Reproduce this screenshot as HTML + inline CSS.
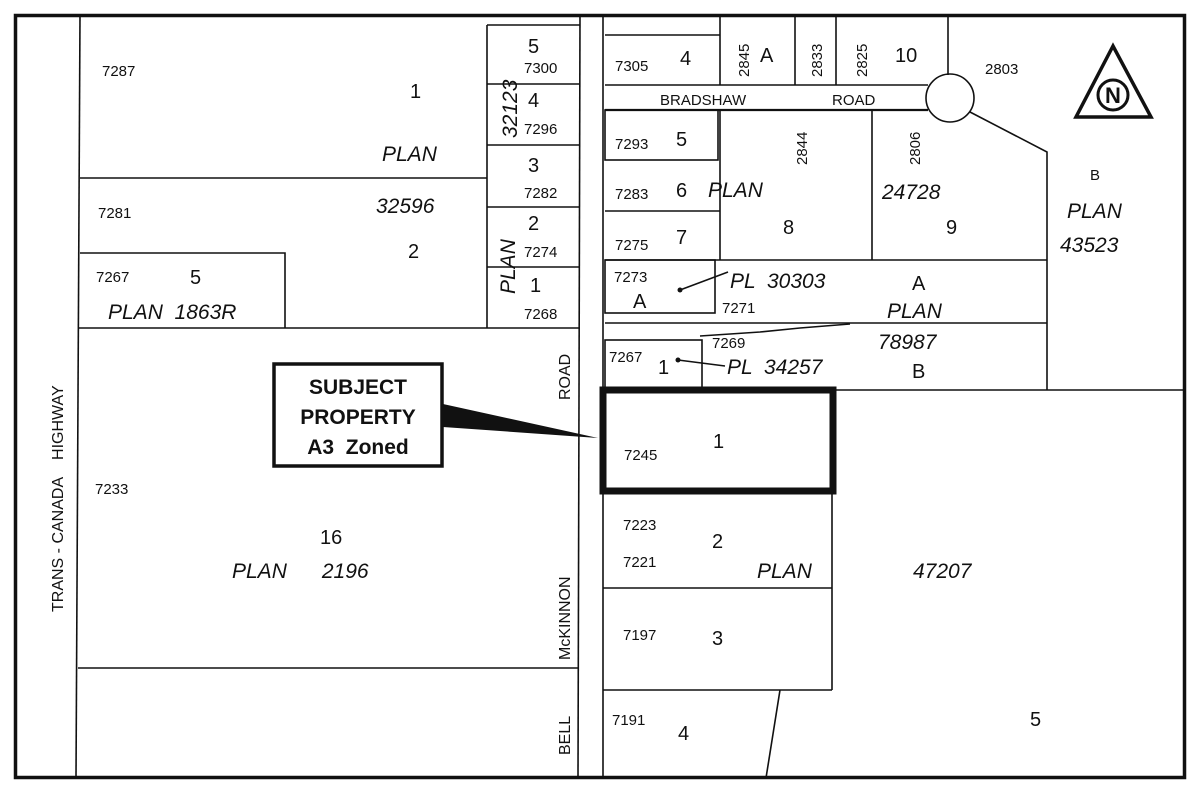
<!DOCTYPE html>
<html><head><style>
html,body{margin:0;padding:0;background:#fff;}
svg{display:block;}
text{font-family:"Liberation Sans",sans-serif;fill:#111;white-space:pre;}
.s{font-size:15px;}
.m{font-size:20px;}
.i{font-size:21px;font-style:italic;}
</style></head><body>
<svg width="1200" height="795" viewBox="0 0 1200 795" xmlns="http://www.w3.org/2000/svg" xml:space="preserve">
<rect x="0" y="0" width="1200" height="795" fill="#fff"/>
<g stroke="#111" stroke-width="1.6" fill="none">
<rect x="15.5" y="15.5" width="1169" height="762" stroke-width="3.5"/>
<line x1="80" y1="15" x2="76" y2="778"/>
<line x1="80" y1="178" x2="487" y2="178"/>
<polyline points="80,253 285,253 285,328"/>
<line x1="78" y1="328" x2="580" y2="328"/>
<line x1="487" y1="25" x2="487" y2="328"/>
<line x1="487" y1="25" x2="580" y2="25"/>
<line x1="487" y1="84" x2="580" y2="84"/>
<line x1="487" y1="145" x2="580" y2="145"/>
<line x1="487" y1="207" x2="580" y2="207"/>
<line x1="487" y1="267" x2="580" y2="267"/>
<line x1="580" y1="15" x2="578" y2="778"/>
<line x1="603" y1="15" x2="603" y2="778"/>
<line x1="78" y1="668" x2="578" y2="668"/>
<line x1="605" y1="35" x2="720" y2="35"/>
<line x1="605" y1="85" x2="928" y2="85"/>
<line x1="720" y1="15" x2="720" y2="85"/>
<line x1="795" y1="15" x2="795" y2="85"/>
<line x1="836" y1="15" x2="836" y2="85"/>
<line x1="948" y1="15" x2="948" y2="75"/>
<circle cx="950" cy="98" r="24"/>
<line x1="605" y1="110" x2="928" y2="110" stroke-width="2.2"/>
<polyline points="970,112 1047,152 1047,390"/>
<rect x="605" y="110" width="113" height="50"/>
<line x1="605" y1="211" x2="720" y2="211"/>
<line x1="720" y1="110" x2="720" y2="260"/>
<line x1="872" y1="110" x2="872" y2="260"/>
<line x1="605" y1="260" x2="1047" y2="260"/>
<rect x="605" y="260" width="110" height="53"/>
<line x1="605" y1="323" x2="1047" y2="323"/>
<polyline points="700,336 760,332 800,328 850,324"/>
<rect x="605" y="340" width="97" height="48"/>
<line x1="603" y1="390" x2="1185" y2="390"/>
<line x1="680" y1="290" x2="728" y2="272"/>
<line x1="678" y1="360" x2="725" y2="366"/>
<line x1="832" y1="492" x2="832" y2="690"/>
<line x1="603" y1="588" x2="832" y2="588"/>
<line x1="603" y1="690" x2="832" y2="690"/>
<line x1="780" y1="690" x2="766" y2="778"/>
<rect x="603" y="390" width="230" height="101" stroke-width="7"/>
<rect x="274" y="364" width="168" height="102" stroke-width="3.5"/>
<polygon points="1113,46 1076,117 1151,117" stroke-width="3.5"/>
<circle cx="1113" cy="95" r="15" stroke-width="3"/>
</g>
<circle cx="680" cy="290" r="2.5" fill="#111"/>
<circle cx="678" cy="360" r="2.5" fill="#111"/>
<polygon points="443,404 443,427 598,438" fill="#111"/>
<text x="1113" y="103" font-size="22" font-weight="bold" text-anchor="middle">N</text>
<g font-weight="bold" font-size="21" text-anchor="middle">
<text x="358" y="394">SUBJECT</text>
<text x="358" y="424">PROPERTY</text>
<text x="358" y="454">A3  Zoned</text>
</g>
<text class="s" x="102" y="76">7287</text>
<text class="m" x="410" y="98">1</text>
<text class="i" x="382" y="161">PLAN</text>
<text class="s" x="98" y="218">7281</text>
<text class="i" x="376" y="213">32596</text>
<text class="m" x="408" y="258">2</text>
<text class="s" x="96" y="282">7267</text>
<text class="m" x="190" y="284">5</text>
<text class="i" x="108" y="319">PLAN  1863R</text>
<text class="m" x="528" y="53">5</text>
<text class="s" x="524" y="73">7300</text>
<text class="m" x="528" y="107">4</text>
<text class="s" x="524" y="134">7296</text>
<text class="m" x="528" y="172">3</text>
<text class="s" x="524" y="198">7282</text>
<text class="m" x="528" y="230">2</text>
<text class="s" x="524" y="257">7274</text>
<text class="m" x="530" y="292">1</text>
<text class="s" x="524" y="319">7268</text>
<text class="i" transform="translate(517,138) rotate(-90)">32123</text>
<text class="i" transform="translate(515,294) rotate(-90)">PLAN</text>
<text class="s" x="95" y="494">7233</text>
<text class="m" x="320" y="544">16</text>
<text class="i" x="232" y="578">PLAN      2196</text>
<text font-size="16" transform="translate(63,612) rotate(-90)">TRANS - CANADA    HIGHWAY</text>
<text font-size="16" transform="translate(570,400) rotate(-90)">ROAD</text>
<text font-size="16" transform="translate(570,660) rotate(-90)">McKINNON</text>
<text font-size="16" transform="translate(570,755) rotate(-90)">BELL</text>
<text class="s" x="615" y="71">7305</text>
<text class="m" x="680" y="65">4</text>
<text class="s" transform="translate(749,77) rotate(-90)">2845</text>
<text class="m" x="760" y="62">A</text>
<text class="s" transform="translate(822,77) rotate(-90)">2833</text>
<text class="s" transform="translate(867,77) rotate(-90)">2825</text>
<text class="m" x="895" y="62">10</text>
<text class="s" x="985" y="74">2803</text>
<text font-size="15" x="660" y="105">BRADSHAW</text>
<text font-size="15" x="832" y="105">ROAD</text>
<text class="s" x="615" y="149">7293</text>
<text class="m" x="676" y="146">5</text>
<text class="s" transform="translate(807,165) rotate(-90)">2844</text>
<text class="s" transform="translate(920,165) rotate(-90)">2806</text>
<text class="s" x="615" y="199">7283</text>
<text class="m" x="676" y="197">6</text>
<text class="i" x="708" y="197">PLAN</text>
<text class="i" x="882" y="199">24728</text>
<text class="m" x="783" y="234">8</text>
<text class="m" x="946" y="234">9</text>
<text class="s" x="615" y="250">7275</text>
<text class="m" x="676" y="244">7</text>
<text class="s" x="1090" y="180">B</text>
<text class="i" x="1067" y="218">PLAN</text>
<text class="i" x="1060" y="252">43523</text>
<text class="s" x="614" y="282">7273</text>
<text class="m" x="633" y="308">A</text>
<text class="i" x="730" y="288">PL  30303</text>
<text class="m" x="912" y="290">A</text>
<text class="s" x="722" y="313">7271</text>
<text class="i" x="887" y="318">PLAN</text>
<text class="s" x="712" y="348">7269</text>
<text class="i" x="878" y="349">78987</text>
<text class="s" x="609" y="362">7267</text>
<text class="m" x="658" y="374">1</text>
<text class="i" x="727" y="374">PL  34257</text>
<text class="m" x="912" y="378">B</text>
<text class="s" x="624" y="460">7245</text>
<text class="m" x="713" y="448">1</text>
<text class="s" x="623" y="530">7223</text>
<text class="m" x="712" y="548">2</text>
<text class="s" x="623" y="567">7221</text>
<text class="i" x="757" y="578">PLAN</text>
<text class="i" x="913" y="578">47207</text>
<text class="s" x="623" y="640">7197</text>
<text class="m" x="712" y="645">3</text>
<text class="s" x="612" y="725">7191</text>
<text class="m" x="678" y="740">4</text>
<text class="m" x="1030" y="726">5</text>
</svg>
</body></html>
